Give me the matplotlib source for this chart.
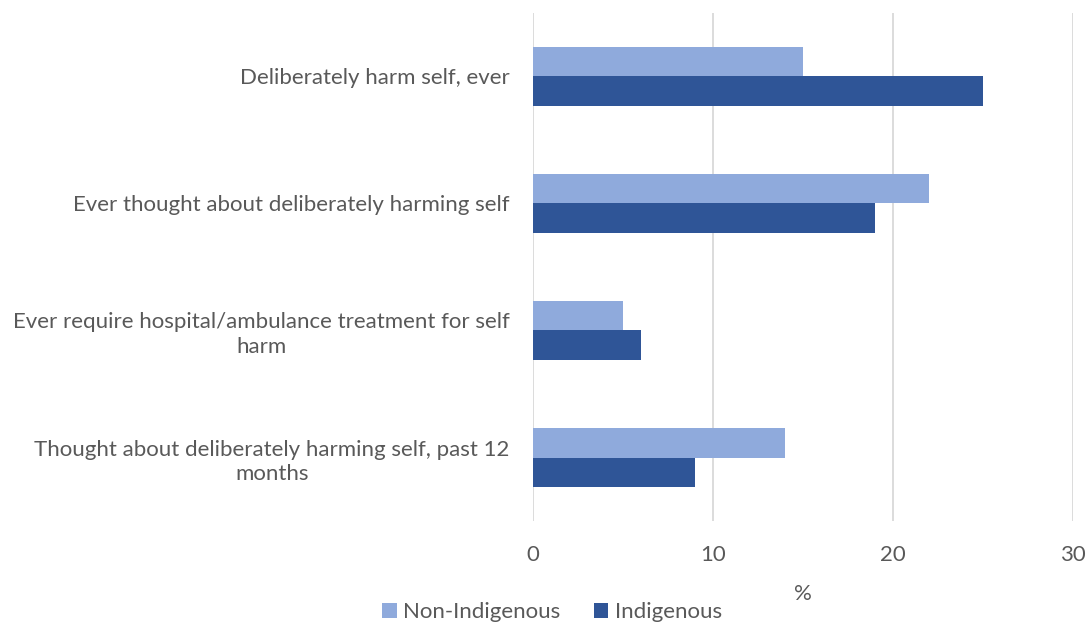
import numpy as np
import matplotlib.pyplot as plt

plt.rcParams['font.family'] = ['Lato', 'DejaVu Sans']

# categories, top to bottom
categories = ['Deliberately harm self, ever',
              'Ever thought about deliberately harming self',
              'Ever require hospital/ambulance treatment for self\nharm',
              'Thought about deliberately harming self, past 12\nmonths']
non_indigenous = [15, 22, 5, 14]
indigenous = [25, 19, 6, 9]
x_ticks = [0, 10, 20, 30]

TEXT_COL = '#595959'
LIGHT = '#8FAADC'
DARK = '#2F5597'

fig = plt.figure(figsize=(10.87, 6.22), dpi=100)
ax = fig.add_axes([533 / 1087, 1 - 521 / 622, 540 / 1087, 508 / 622])

y = np.arange(len(categories))
h = 0.236
ax.barh(y - h / 2, non_indigenous, height=h, color=LIGHT, label='Non-Indigenous', zorder=2)
ax.barh(y + h / 2, indigenous, height=h, color=DARK, label='Indigenous', zorder=2)

ax.set_xlim(0, 30)
ax.set_ylim(3.5, -0.5)
ax.set_xticks(x_ticks)
ax.set_xticklabels([str(t) for t in x_ticks])
ax.set_yticks(y)
ax.set_yticklabels(categories, multialignment='center', linespacing=1.3)

ax.grid(axis='x', color='#D9D9D9', linewidth=1.3, zorder=0)
ax.set_axisbelow(True)
for s in ax.spines.values():
    s.set_visible(False)
ax.tick_params(axis='both', length=0, colors=TEXT_COL, labelsize=16)
ax.tick_params(axis='x', pad=17)
ax.tick_params(axis='y', pad=17)

ax.set_xlabel('%', color=TEXT_COL, fontsize=16, labelpad=14)

fig.legend(loc='lower center', bbox_to_anchor=(0.508, -0.032), ncol=2, frameon=False,
           fontsize=16, labelcolor=TEXT_COL, handlelength=0.65, handleheight=0.65,
           handletextpad=0.3, columnspacing=1.5)

fig.savefig('out.png', dpi=100)
